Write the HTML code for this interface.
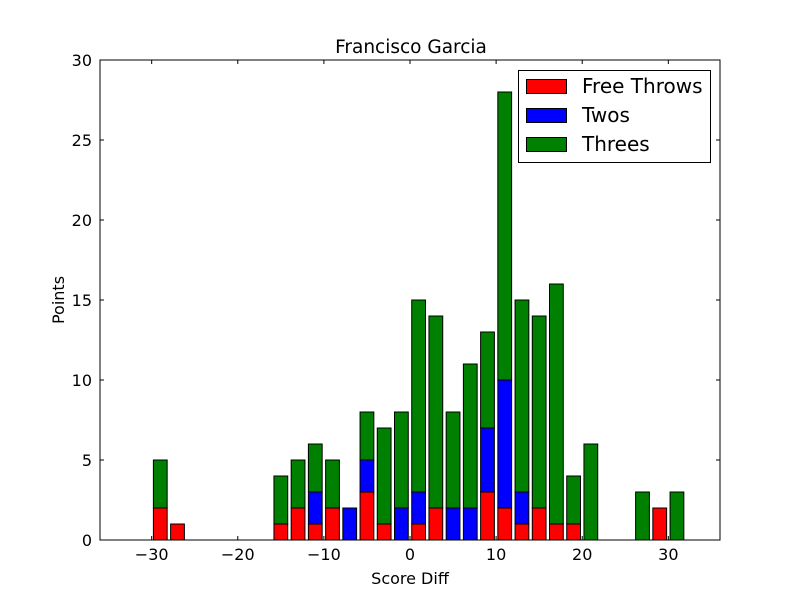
<!DOCTYPE html>
<html><head><meta charset="utf-8"><style>
html,body{margin:0;padding:0;background:#fff;}
svg text{font-family:"DejaVu Sans","Liberation Sans",sans-serif;}
</style></head><body>
<svg id="chart" width="800" height="600" viewBox="0 0 800 600" xmlns="http://www.w3.org/2000/svg">
<rect width="800" height="600" fill="#fff"/>
<text x="411" y="53" font-size="18.5" text-anchor="middle">Francisco Garcia</text>
<g id="bars"></g>
<g id="axes"></g>
<text x="410" y="584" font-size="16" text-anchor="middle">Score Diff</text>
<text transform="translate(64,300) rotate(-90)" font-size="16" text-anchor="middle">Points</text>
<g>
<rect x="518.5" y="70.5" width="192" height="92" fill="#fff" stroke="#000" stroke-width="1"/>
<g><rect x="526.5" y="79.5" width="40" height="14" fill="#ff0000" stroke="#000"/><text x="582" y="93" font-size="20">Free Throws</text></g>
<g><rect x="526.5" y="108.5" width="40" height="14" fill="#0000ff" stroke="#000"/><text x="582" y="122" font-size="20">Twos</text></g>
<g><rect x="526.5" y="137.5" width="40" height="14" fill="#008000" stroke="#000"/><text x="582" y="151" font-size="20">Threes</text></g>
</g>
</svg>
<script>
const centers=[-35,-33,-31,-29,-27,-25,-23,-21,-19,-17,-15,-13,-11,-9,-7,-5,-3,-1,1,3,5,7,9,11,13,15,17,19,21,23,25,27,29,31,33,35];
const freeThrows=[0,0,0,2,1,0,0,0,0,0,1,2,1,2,0,3,1,0,1,2,0,0,3,2,1,2,1,1,0,0,0,0,2,0,0,0];
const twos=[0,0,0,0,0,0,0,0,0,0,0,0,2,0,2,2,0,2,2,0,2,2,4,8,2,0,0,0,0,0,0,0,0,0,0,0];
const threes=[0,0,0,3,0,0,0,0,0,0,3,3,3,3,0,3,6,6,12,12,6,9,6,18,12,12,15,3,6,0,0,3,0,3,0,0];
const xTicks=[-30,-20,-10,0,10,20,30];
const yTicks=[0,5,10,15,20,25,30];
const L=100,R=720,T=60,B=540,xmin=-36,xmax=36,ymax=30;
const sx=v=>L+(v-xmin)/(xmax-xmin)*(R-L);
const sy=v=>B-v/ymax*(B-T);
const NS="http://www.w3.org/2000/svg";
const bars=document.getElementById('bars');
const axes=document.getElementById('axes');
function mk(tag,attrs,parent){const e=document.createElementNS(NS,tag);for(const k in attrs)e.setAttribute(k,attrs[k]);parent.appendChild(e);return e;}
const series=[[freeThrows,'#ff0000','free-throws'],[twos,'#0000ff','twos'],[threes,'#008000','threes']];
centers.forEach((c,i)=>{
  let base=0;
  series.forEach(([arr,col,nm])=>{
    const v=arr[i];
    const y0=sy(base),y1=sy(base+v);
    if(v>0){
      const r=mk('rect',{x:sx(c-0.8),y:y1,width:sx(c+0.8)-sx(c-0.8),height:y0-y1,fill:col,stroke:'#000','stroke-width':1},bars);
      
      
    } else {
      const l=mk('line',{x1:sx(c-0.8),y1:y0,x2:sx(c+0.8),y2:y0,stroke:'#000','stroke-width':1},bars);
      
      
    }
    base+=v;
  });
});
mk('rect',{x:L,y:T,width:R-L,height:B-T,fill:'none',stroke:'#000','stroke-width':1},axes);
xTicks.forEach(t=>{
  const x=sx(t);
  mk('line',{x1:x,y1:B,x2:x,y2:B-4,stroke:'#000'},axes);
  mk('line',{x1:x,y1:T,x2:x,y2:T+4,stroke:'#000'},axes);
  const tx=mk('text',{x:x,y:B+20,'font-size':16,'text-anchor':'middle'},axes);
  tx.textContent=(t<0?'\u2212'+(-t):t);
  
  
});
yTicks.forEach(t=>{
  const y=sy(t);
  mk('line',{x1:L,y1:y,x2:L+4,y2:y,stroke:'#000'},axes);
  mk('line',{x1:R,y1:y,x2:R-4,y2:y,stroke:'#000'},axes);
  const tx=mk('text',{x:L-8,y:y+6,'font-size':16,'text-anchor':'end'},axes);
  tx.textContent=t;
  
  
});
</script>
</body></html>
